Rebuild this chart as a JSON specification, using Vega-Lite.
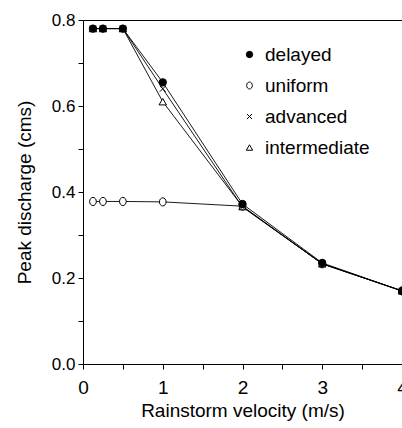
{
  "$schema": "https://vega.github.io/schema/vega-lite/v6.json",
  "width": 319,
  "height": 344,
  "autosize": "none",
  "padding": {"left": 83, "top": 20, "right": 0, "bottom": 64},
  "background": "white",
  "config": {
    "font": "Liberation Sans",
    "view": {"stroke": "black", "strokeWidth": 1},
    "axis": {"grid": false, "domainColor": "black", "tickColor": "black", "labelColor": "black", "titleColor": "black", "titleFontWeight": "normal", "tickSize": 5}
  },
  "data": {"values": [
    {"series": "uniform", "v": 0.125, "q": 0.378},
    {"series": "uniform", "v": 0.25, "q": 0.378},
    {"series": "uniform", "v": 0.5, "q": 0.378},
    {"series": "uniform", "v": 1, "q": 0.377},
    {"series": "uniform", "v": 2, "q": 0.367},
    {"series": "uniform", "v": 3, "q": 0.233},
    {"series": "uniform", "v": 4, "q": 0.17},
    {"series": "intermediate", "v": 0.125, "q": 0.78},
    {"series": "intermediate", "v": 0.25, "q": 0.78},
    {"series": "intermediate", "v": 0.5, "q": 0.78},
    {"series": "intermediate", "v": 1, "q": 0.61},
    {"series": "intermediate", "v": 2, "q": 0.366},
    {"series": "intermediate", "v": 3, "q": 0.233},
    {"series": "intermediate", "v": 4, "q": 0.17},
    {"series": "advanced", "v": 0.125, "q": 0.78},
    {"series": "advanced", "v": 0.25, "q": 0.78},
    {"series": "advanced", "v": 0.5, "q": 0.78},
    {"series": "advanced", "v": 1, "q": 0.64},
    {"series": "advanced", "v": 2, "q": 0.365},
    {"series": "advanced", "v": 3, "q": 0.233},
    {"series": "advanced", "v": 4, "q": 0.17},
    {"series": "delayed", "v": 0.125, "q": 0.78},
    {"series": "delayed", "v": 0.25, "q": 0.78},
    {"series": "delayed", "v": 0.5, "q": 0.78},
    {"series": "delayed", "v": 1, "q": 0.655},
    {"series": "delayed", "v": 2, "q": 0.372},
    {"series": "delayed", "v": 3, "q": 0.235},
    {"series": "delayed", "v": 4, "q": 0.17}
  ]},
  "encoding": {
    "x": {"field": "v", "type": "quantitative", "scale": {"domain": [0, 4], "nice": false},
      "axis": {"title": "Rainstorm velocity (m/s)", "values": [0, 0.5, 1, 1.5, 2, 2.5, 3, 3.5, 4], "labelExpr": "datum.value % 1 == 0 ? format(datum.value, 'd') : ''", "labelFontSize": 19, "titleFontSize": 19, "labelPadding": 9, "titlePadding": 4, "labelFlush": false}},
    "y": {"field": "q", "type": "quantitative", "scale": {"domain": [0, 0.8], "nice": false},
      "axis": {"title": "Peak discharge (cms)", "values": [0, 0.1, 0.2, 0.3, 0.4, 0.5, 0.6, 0.7, 0.8], "labelExpr": "abs(round(datum.value * 10) % 2) < 0.5 ? format(datum.value, '.1f') : ''", "labelFontSize": 17, "titleFontSize": 19, "labelPadding": 3, "titlePadding": 17, "labelFlush": false}}
  },
  "layer": [
    {"mark": {"type": "line", "color": "black", "strokeWidth": 0.9, "clip": true},
     "encoding": {"detail": {"field": "series"}}},
    {"mark": {"type": "point", "stroke": "black", "strokeWidth": 1, "opacity": 1, "size": 55, "clip": true},
     "encoding": {
       "shape": {"field": "series", "type": "nominal",
         "scale": {"domain": ["delayed", "uniform", "advanced", "intermediate"],
           "range": ["circle", "M0,-1.1A0.9,1.1 0 1,1 0,1.1A0.9,1.1 0 1,1 0,-1.1Z", "M-0.8,-0.8L0.8,0.8M-0.8,0.8L0.8,-0.8", "triangle-up"]},
         "legend": {"title": null, "orient": "none", "legendX": 157, "legendY": 25, "labelFontSize": 19, "labelColor": "black", "symbolSize": 40, "symbolStrokeWidth": 1, "rowPadding": 11, "labelOffset": 6,
           "encode": {"symbols": {"update": {"stroke": {"value": "black"}, "strokeWidth": {"value": 1}, "opacity": {"value": 1}, "fill": {"signal": "datum.value === 'delayed' ? 'black' : 'white'"}}}}}},
       "fill": {"field": "series", "type": "nominal",
         "scale": {"domain": ["delayed", "uniform", "advanced", "intermediate"], "range": ["black", "white", "white", "white"]},
         "legend": null}
     }}
  ]
}
